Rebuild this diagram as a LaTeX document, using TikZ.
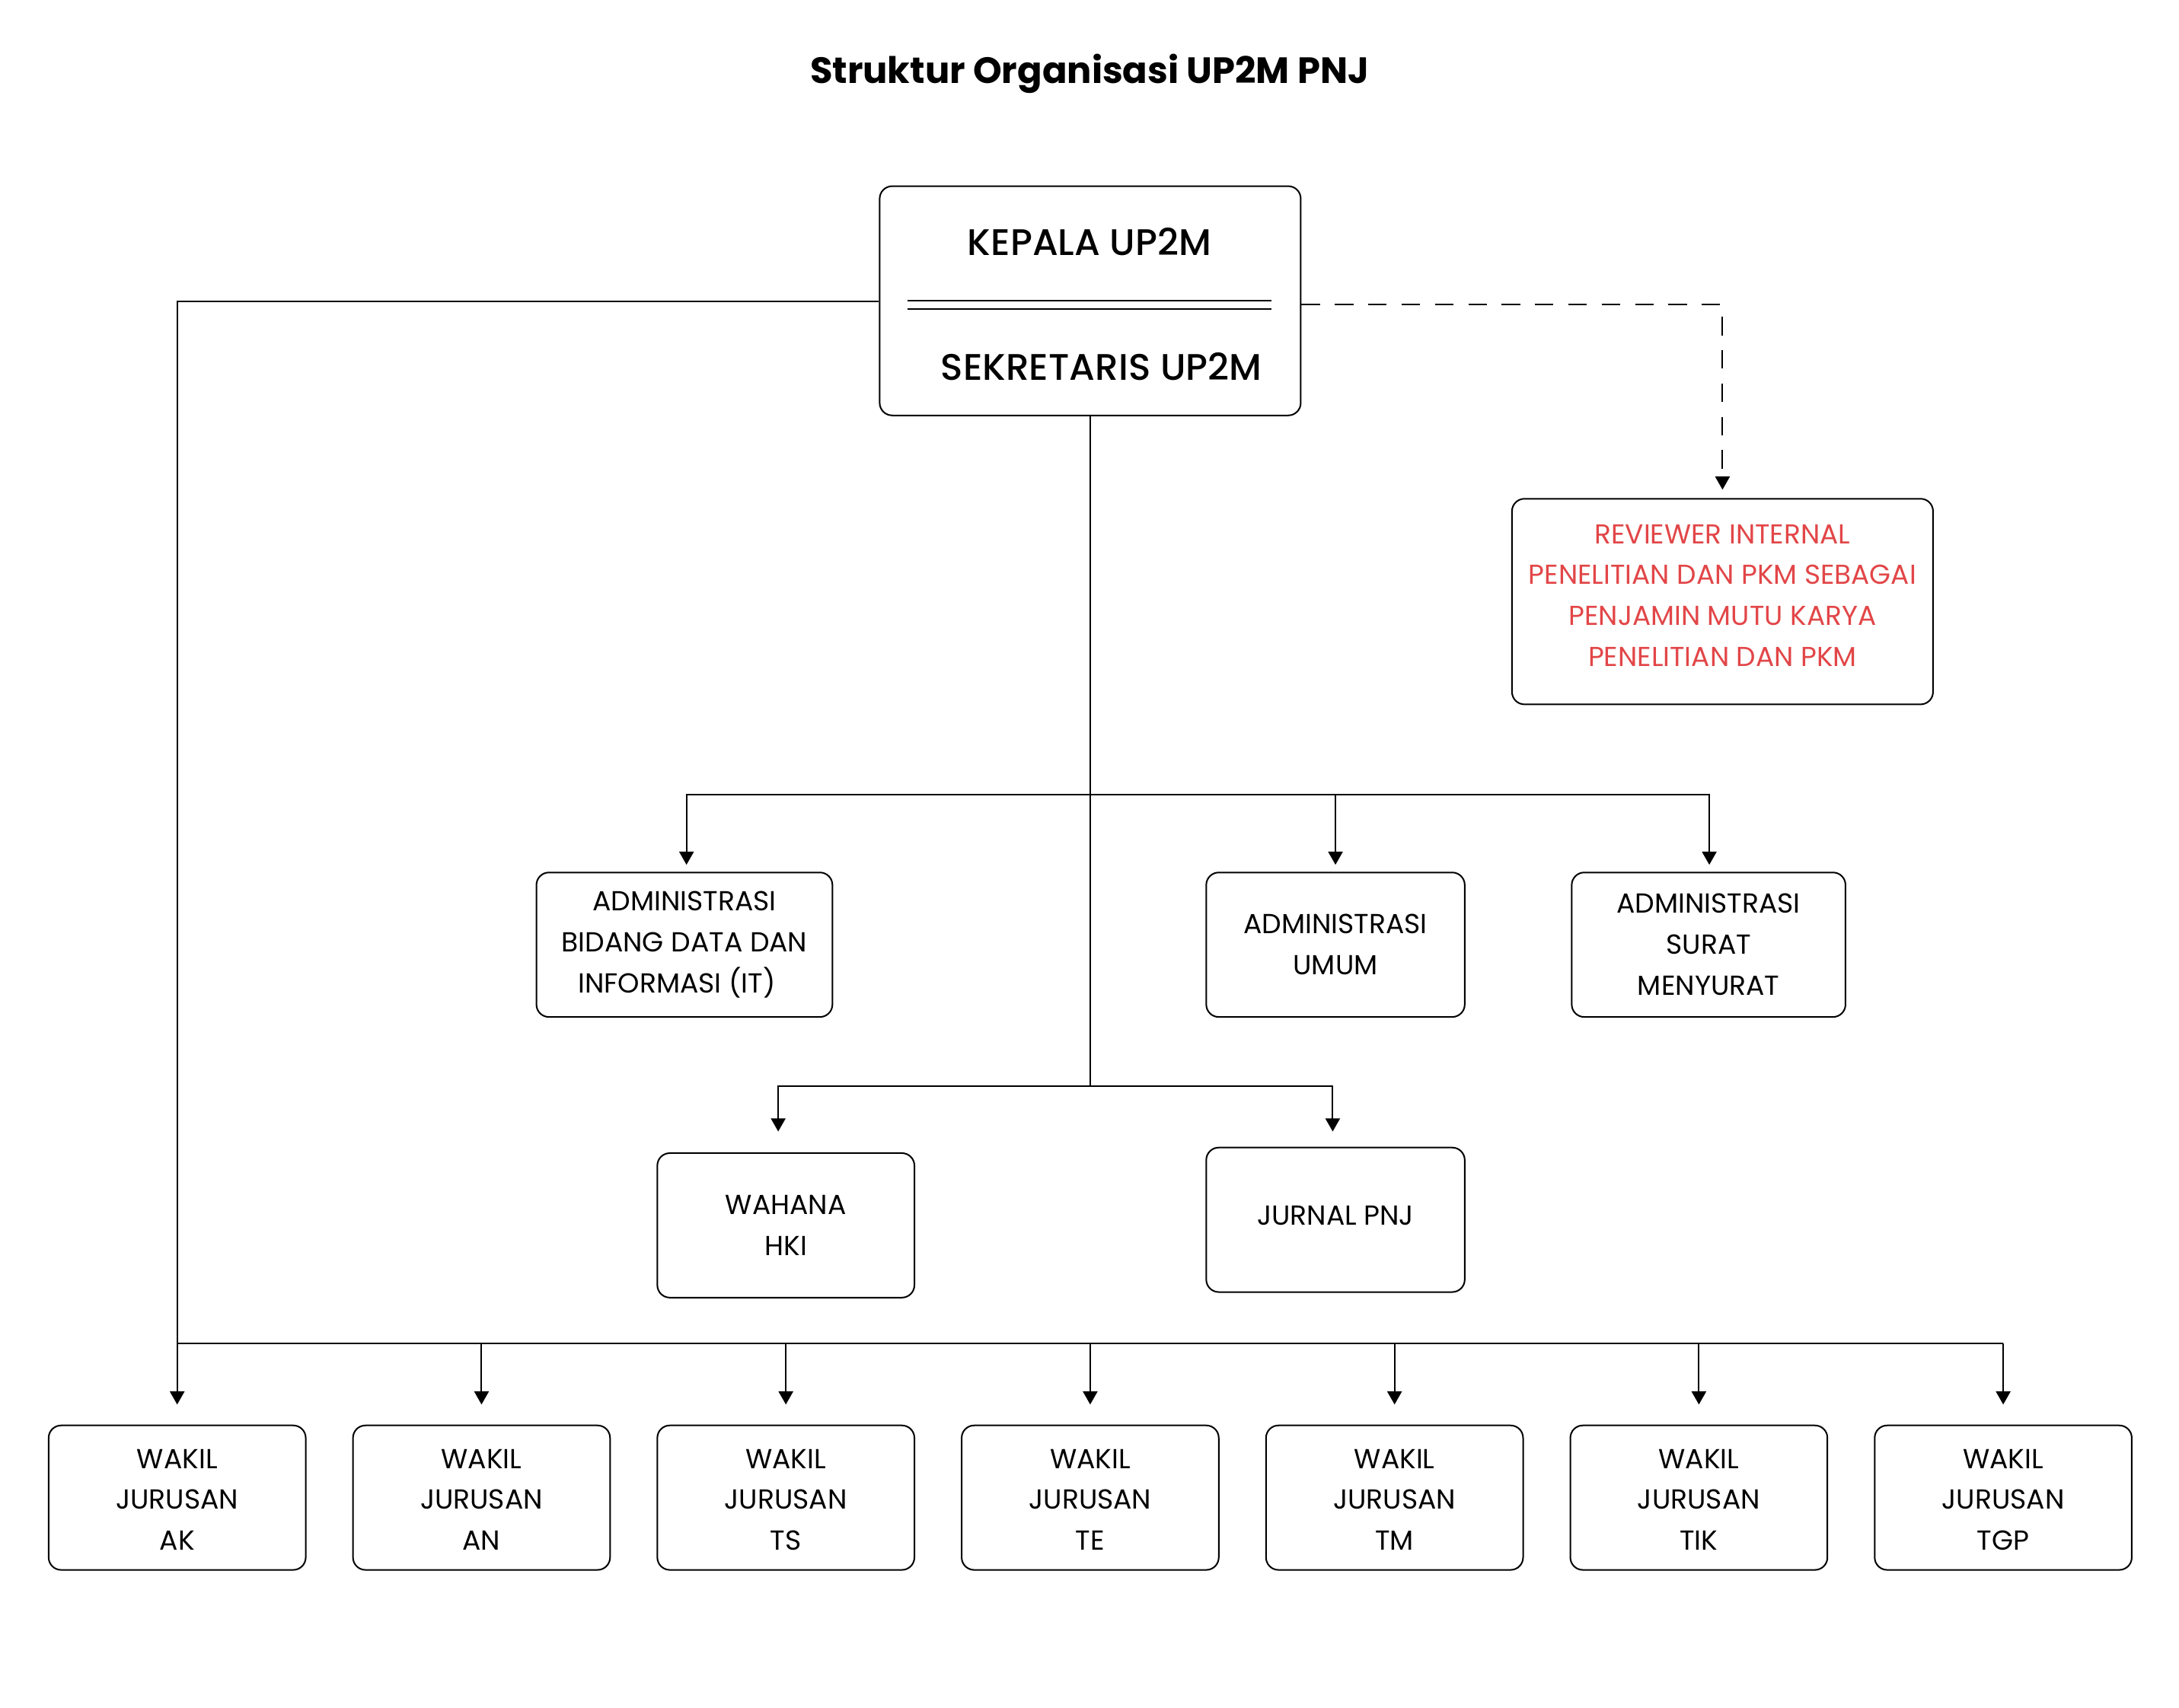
\documentclass[tikz,border=0pt]{standalone}
\usepackage{fontspec}
\setmainfont{Poppins}
\IfFontExistsTF{Poppins Medium}{\newfontfamily\medfont{Poppins Medium}}{\newfontfamily\medfont{Poppins}}
\usetikzlibrary{arrows.meta}
\definecolor{revred}{RGB}{226,70,72}
\begin{document}
\begin{tikzpicture}[x=1pt,y=-1pt,
  box/.style={draw=black, line width=1.1pt, rounded corners=9pt, fill=white,
    inner sep=0pt, align=center, font=\fontsize{19.8}{29.5}\selectfont},
  txt/.style={inner sep=0pt, align=center, font=\fontsize{19.8}{29.5}\selectfont},
  conn/.style={line width=1.1pt},
  arr/.style={line width=1.1pt, -{Triangle[length=9.5pt,width=10.5pt]}, shorten >=#1},
  arr/.default=5pt,
  dashline/.style={dash pattern=on 13.3pt off 10.7pt}
]
\fill[white] (0,0) rectangle (1568,1229);
\useasboundingbox (0,0) rectangle (1568,1229);

% title
\node[font=\fontsize{26.3}{30}\bfseries\selectfont, inner sep=0pt] (title) at (784,53) {Struktur Organisasi UP2M PNJ};

% top box
\node[box, minimum width=303pt, minimum height=165pt] (top) at (784.5,216.5) {};
\node[inner sep=0pt, font=\fontsize{26.6}{30}\medfont] (kepala) at (784,174) {KEPALA UP2M};
\node[inner sep=0pt, font=\fontsize{26.6}{30}\medfont] (sekr) at (792.5,264) {SEKRETARIS UP2M};
\coordinate (dl1) at (653,216.5);
\coordinate (dr1) at (915,216.5);
\coordinate (dl2) at (653,222.5);
\coordinate (dr2) at (915,222.5);
\draw[conn] (dl1) -- (dr1);
\draw[conn] (dl2) -- (dr2);

% reviewer
\node[box, minimum width=303pt, minimum height=148pt] (rev) at (1239.5,433) {};
\node[txt, text=revred, font=\fontsize{19.7}{29.4}\selectfont] (revt) at (1239.5,428.5) {REVIEWER INTERNAL\\PENELITIAN DAN PKM SEBAGAI\\PENJAMIN MUTU KARYA\\PENELITIAN DAN PKM};

% admin row
\node[box, minimum width=213pt, minimum height=104pt] (it) at (492.5,680) {ADMINISTRASI\\BIDANG DATA DAN\\INFORMASI (IT)\hspace*{11pt}};
\node[box, minimum width=186pt, minimum height=104pt] (umum) at (961,680) {ADMINISTRASI\\UMUM};
\node[box, minimum width=197pt, minimum height=104pt] (surat) at (1229.5,680) {ADMINISTRASI\\SURAT\\MENYURAT};

% second row
\node[box, minimum width=185pt, minimum height=104pt] (hki) at (565.5,882) {WAHANA\\HKI};
\node[box, minimum width=186pt, minimum height=104pt] (jurnal) at (961,878) {};
\node[txt] (jurnalt) at (961,875) {JURNAL PNJ};

% bottom row
\foreach \n/\x/\t in {ak/127.5/AK, an/346.5/AN, ts/565.5/TS, te/784.5/TE, tm/1003.5/TM, tik/1222.5/TIK, tgp/1441.5/TGP}{
  \node[box, minimum width=185pt, minimum height=104pt] (\n) at (\x,1078) {};
  \node[txt] (\n t) at (\x,1079.5) {WAKIL\\JURUSAN\\\t};
}

% junctions
\coordinate (j1) at (784.5,572);
\coordinate (j2) at (784.5,782);
\coordinate (jb) at (127.5,967);

% main vertical
\draw[conn] (top.south) -- (j2);
\draw[arr] (j1) -| ([xshift=1.5pt]it.north);
\draw[arr] (j1) -| ([xshift=0.5pt]surat.north);
\draw[arr] (umum.north |- j1) -- (umum.north);
\draw[arr=15pt] (j2) -| ([xshift=-5.5pt]hki.north);
\draw[arr=11pt] (j2) -| ([xshift=-2pt]jurnal.north);

% left branch to wakil jurusan
\draw[arr=14.5pt] ([yshift=-0.5pt]top.west) -| (ak.north);
\draw[conn] (jb) -- (jb -| tgp.north);
\foreach \n in {an,ts,te,tm,tik,tgp}{
  \draw[arr=14.5pt] (\n.north |- jb) -- (\n.north);
}

% dashed to reviewer
\draw[arr=6pt, dashline] ([yshift=-2.5pt]top.east) -| (rev.north);
\end{tikzpicture}
\end{document}
